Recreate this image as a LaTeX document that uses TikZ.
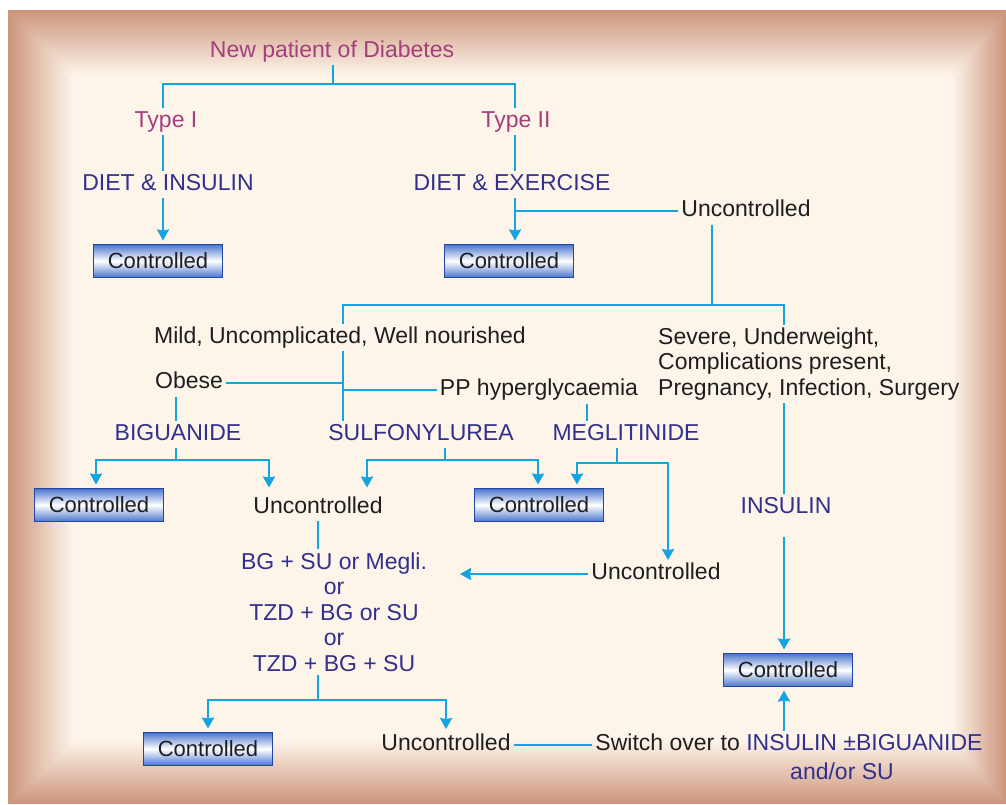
\documentclass[tikz,border=0pt]{standalone}
\usepackage{fontspec}
\setmainfont{Liberation Sans}
\usetikzlibrary{arrows.meta}
\definecolor{frame}{RGB}{204,148,123}
\definecolor{cream}{RGB}{253,244,234}
\definecolor{lnc}{RGB}{18,165,226}
\definecolor{mag}{RGB}{165,62,125}
\definecolor{dblue}{RGB}{50,48,140}
\definecolor{txt}{RGB}{30,30,30}
\definecolor{boxedge}{RGB}{35,70,165}
\definecolor{boxfill}{RGB}{75,118,205}
\begin{document}
\begin{tikzpicture}[x=1pt,y=-1pt,
  tx/.style={font=\fontsize{23}{26}\selectfont, text=txt, text height=16.5pt, text depth=5pt, inner sep=3pt, yshift=-2.5pt},
  mtx/.style={font=\fontsize{23}{25.5}\selectfont, text=txt, inner sep=3pt},
  mg/.style={text=mag},
  db/.style={text=dblue},
  ctrl/.style={font=\fontsize{22}{26}\selectfont, text=txt, draw=boxedge, line width=1.8pt,
    minimum width=129pt, minimum height=33pt, inner sep=0pt,
    top color=boxfill, bottom color=boxfill, middle color=white, outer sep=4pt},
  ln/.style={draw=lnc, line width=2.3pt},
  arr/.style={ln, -{Stealth[length=11pt,width=12pt,inset=1pt]}},
]
\useasboundingbox (0,0) rectangle (1006,804);
% frame
\fill[white] (0,0) rectangle (1006,804);
\fill[frame] (8,10) rectangle (1006,804);
\shade[top color=frame, bottom color=cream] (8,10) -- (1006,10) -- (952,75) -- (72,75) -- cycle;
\shade[left color=frame, right color=cream] (8,10) -- (72,75) -- (72,740) -- (8,804) -- cycle;
\shade[left color=cream, right color=frame] (1006,10) -- (952,75) -- (952,740) -- (1006,804) -- cycle;
\shade[top color=cream, bottom color=frame] (72,740) -- (952,740) -- (1006,804) -- (8,804) -- cycle;
\fill[cream] (72,75) rectangle (952,740);

% nodes
\node[tx,mg] (new) at (332,49) {New patient of Diabetes};
\node[tx,mg] (t1) at (166,119) {Type I};
\node[tx,mg] (t2) at (516,119) {Type II};
\node[tx,db] (di) at (168,182) {DIET \& INSULIN};
\node[tx,db] (de) at (512,182) {DIET \& EXERCISE};
\node[ctrl] (c1) at (158,261) {Controlled};
\node[ctrl] (c2) at (509,261) {Controlled};
\node[tx] (u1) at (746,208.5) {Uncontrolled};
\node[tx] (mild) at (340,335) {Mild, Uncomplicated, Well nourished};
\node[mtx,align=left,anchor=west] (sev) at (655,364) {Severe, Underweight,\\Complications present,\\Pregnancy, Infection, Surgery};
\node[tx] (obese) at (189,380.5) {Obese};
\node[tx] (pp) at (539,387.5) {PP hyperglycaemia};
\node[tx,db] (big) at (178,432) {BIGUANIDE};
\node[tx,db] (sul) at (421,432) {SULFONYLUREA};
\node[tx,db] (meg) at (626,432) {MEGLITINIDE};
\node[ctrl] (c3) at (99,505) {Controlled};
\node[tx] (u2) at (318,505) {Uncontrolled};
\node[ctrl] (c4) at (539,505) {Controlled};
\node[tx,db] (ins) at (786,505) {INSULIN};
\node[tx] (u3) at (656,571.5) {Uncontrolled};
\node[mtx,db,align=center] (combo) at (334,612) {BG + SU or Megli.\\or\\TZD + BG or SU\\or\\TZD + BG + SU};
\node[ctrl] (c5) at (788,670) {Controlled};
\node[ctrl] (c6) at (208,749) {Controlled};
\node[tx] (u4) at (446,742.5) {Uncontrolled};
\node[tx] (sw) at (789,742.5) {Switch over to \textcolor{dblue}{INSULIN ±BIGUANIDE}};
\node[tx,db,inner sep=1pt] (sw2) at (842,771) {and/or SU};

% junctions
\coordinate (b1) at (333,84);
\coordinate (j2) at (515,211);
\coordinate (j3) at (712,305);
\coordinate (j4) at (343,383);
\coordinate (j6) at (176,460);
\coordinate (j7) at (445,460);
\coordinate (j8) at (617,463);
\coordinate (ctip) at (460,574);
\coordinate (j9) at (318,700);

% connectors
\draw[ln] (new.south -| b1) -- (b1);
\draw[ln] ([xshift=-3pt]t1.north) |- (b1) -| ([xshift=-1pt]t2.north);
\draw[ln] ([xshift=-3pt]t1.south) -- ([xshift=-5pt]di.north);
\draw[arr] ([xshift=-5pt]di.south) -- ([xshift=5pt]c1.north);
\draw[ln] ([xshift=-1pt]t2.south) -- ([xshift=3pt]de.north);
\draw[arr] ([xshift=3pt]de.south) -- ([xshift=6pt]c2.north);
\draw[ln] (u1.west) -- (u1.west -| j2);
\draw[ln] ([xshift=-34pt]u1.south) -- (j3);
\draw[ln] ([xshift=3pt]mild.north) |- (j3) -| ([xshift=129pt]sev.north west);
\draw[ln] ([xshift=3pt]mild.south) -- ([xshift=-78pt]sul.north);
\draw[ln] (obese.east) -- (obese.east -| j4);
\draw[ln] (pp.west) -- (pp.west -| j4);
\draw[ln] ([xshift=-13pt]obese.south) -- ([xshift=-2pt]big.north);
\draw[ln] ([xshift=48pt]pp.south) -- ([xshift=-39pt]meg.north);
\draw[ln] ([xshift=-2pt]big.south) -- (j6);
\draw[arr] (j6) -| ([xshift=-3pt]c3.north);
\draw[arr,shorten >=6pt] (j6) -| ([xshift=-49pt]u2.north);
\draw[ln] ([xshift=24pt]sul.south) -- (j7);
\draw[arr,shorten >=6pt] (j7) -| ([xshift=49pt]u2.north);
\draw[arr] (j7) -| ([xshift=-1pt]c4.north);
\draw[ln] ([xshift=-9pt]meg.south) -- (j8);
\draw[arr] (j8) -| ([xshift=38pt]c4.north);
\draw[arr] (j8) -| ([xshift=12pt]u3.north);
\draw[ln] ([xshift=129pt]sev.south west) -- ([xshift=-2pt]ins.north);
\draw[arr,shorten <=16pt] ([xshift=-2pt]ins.south) -- ([xshift=-4pt]c5.north);
\draw[arr] (u3.west) -- (u3.west -| ctip);
\draw[ln] (u2.south) -- ([xshift=-16pt]combo.north);
\draw[ln] ([xshift=-16pt]combo.south) -- (j9);
\draw[arr] (j9) -| (c6.north);
\draw[arr,shorten >=2pt] (j9) -| (u4.north);
\draw[ln] (u4.east) -- (sw.west);
\draw[arr] ([xshift=-5pt]sw.north) -- ([xshift=-4pt]c5.south);
\end{tikzpicture}
\end{document}
